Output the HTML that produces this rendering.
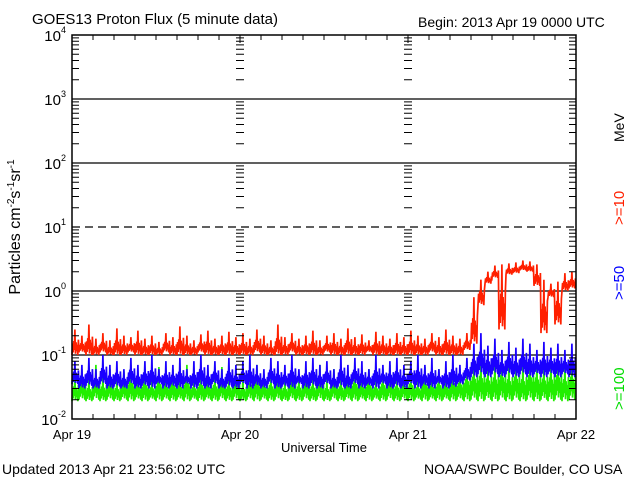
<!DOCTYPE html>
<html><head><meta charset="utf-8"><style>
body{margin:0;background:#fff;}
svg text{font-family:"Liberation Sans",sans-serif;}
</style></head><body>
<svg id="chart" width="640" height="480" xmlns="http://www.w3.org/2000/svg">
<rect width="640" height="480" fill="#fff"/>
<text x="32" y="24" font-size="15">GOES13 Proton Flux (5 minute data)</text>
<text x="418" y="27" font-size="14">Begin: 2013 Apr 19 0000 UTC</text>
<text x="2" y="474" font-size="14">Updated 2013 Apr 21 23:56:02 UTC</text>
<text x="424" y="474" font-size="14">NOAA/SWPC Boulder, CO USA</text>
<text x="324" y="452" font-size="13" text-anchor="middle">Universal Time</text>
<text transform="translate(20,227) rotate(-90)" font-size="16" text-anchor="middle">Particles cm<tspan font-size="10" dy="-6">-2</tspan><tspan dy="6">s</tspan><tspan font-size="10" dy="-6">-1</tspan><tspan dy="6">sr</tspan><tspan font-size="10" dy="-6">-1</tspan></text>
<text transform="translate(624,142) rotate(-90)" font-size="14">MeV</text>
<text transform="translate(624,225) rotate(-90)" font-size="15" fill="#ff2000">&gt;=10</text>
<text transform="translate(624,300) rotate(-90)" font-size="15" fill="#0000ff">&gt;=50</text>
<text transform="translate(624,410) rotate(-90)" font-size="15" fill="#00dd00">&gt;=100</text>
<g id="grid"></g><g id="series"></g><g id="axes"></g>
</svg>
<script>
const dayLabels=["Apr 19","Apr 20","Apr 21","Apr 22"];
const decades=[-2,-1,0,1,2,3,4];
const redHi=[0.25,0.2,0.3,0.18,0.22,0.17,0.26,0.2,0.19,0.24,0.18,0.2,0.16,0.22,0.19,0.28,0.2,0.17,0.21,0.24,0.18,0.2,0.23,0.19,
0.22,0.18,0.25,0.2,0.17,0.3,0.19,0.22,0.18,0.2,0.24,0.17,0.2,0.22,0.18,0.26,0.19,0.21,0.17,0.23,0.2,0.18,0.22,0.19,
0.24,0.2,0.18,0.22,0.19,0.25,0.2,0.18,0.22,0.8,1.5,2.0,2.5,2.6,2.7,2.8,3.0,2.9,2.6,1.5,1.3,1.4,1.9,2.0];
const redLo=[0.1,0.11,0.1,0.1,0.11,0.1,0.1,0.1,0.11,0.1,0.1,0.1,0.1,0.11,0.1,0.1,0.1,0.1,0.11,0.1,0.1,0.1,0.1,0.1,
0.1,0.1,0.11,0.1,0.1,0.1,0.1,0.11,0.1,0.1,0.1,0.1,0.11,0.1,0.1,0.1,0.1,0.1,0.11,0.1,0.1,0.1,0.1,0.1,
0.1,0.1,0.1,0.11,0.1,0.1,0.1,0.1,0.12,0.15,0.6,1.3,1.6,0.25,1.8,1.9,2.1,2.0,1.2,0.22,0.8,0.3,1.0,1.1];
const blueHi=[0.08,0.07,0.09,0.06,0.1,0.07,0.08,0.06,0.09,0.07,0.08,0.1,0.06,0.08,0.07,0.09,0.06,0.08,0.1,0.07,0.08,0.06,0.09,0.07,
0.08,0.1,0.07,0.06,0.09,0.08,0.07,0.1,0.06,0.08,0.09,0.07,0.08,0.06,0.1,0.07,0.09,0.08,0.06,0.1,0.07,0.08,0.09,0.07,
0.08,0.1,0.07,0.09,0.06,0.08,0.1,0.07,0.09,0.15,0.22,0.14,0.18,0.12,0.16,0.13,0.18,0.15,0.12,0.16,0.13,0.15,0.12,0.15];
const blueLo=[0.035,0.03,0.033,0.03,0.035,0.03,0.032,0.03,0.035,0.03,0.033,0.03,0.035,0.03,0.032,0.03,0.035,0.03,0.033,0.03,0.035,0.03,0.032,0.03,
0.035,0.03,0.033,0.03,0.035,0.03,0.032,0.03,0.035,0.03,0.033,0.03,0.035,0.03,0.032,0.03,0.035,0.03,0.033,0.03,0.035,0.03,0.032,0.03,
0.035,0.03,0.033,0.03,0.035,0.03,0.032,0.035,0.04,0.045,0.05,0.045,0.05,0.045,0.05,0.045,0.05,0.045,0.05,0.045,0.05,0.045,0.05,0.045];
const greenHi=[0.05,0.06,0.045,0.07,0.05,0.06,0.045,0.055,0.07,0.05,0.06,0.045,0.065,0.05,0.06,0.05,0.07,0.045,0.06,0.05,0.055,0.065,0.05,0.06,
0.045,0.06,0.07,0.05,0.055,0.06,0.045,0.065,0.05,0.06,0.05,0.07,0.045,0.06,0.05,0.055,0.065,0.05,0.06,0.045,0.06,0.07,0.05,0.055,
0.06,0.045,0.065,0.05,0.06,0.05,0.07,0.06,0.08,0.09,0.1,0.08,0.09,0.1,0.08,0.09,0.08,0.1,0.09,0.08,0.09,0.1,0.08,0.09];
const greenLo=[0.019,0.02,0.019,0.02,0.019,0.02,0.019,0.02,0.019,0.02,0.019,0.02,0.019,0.02,0.019,0.02,0.019,0.02,0.019,0.02,0.019,0.02,0.019,0.02,
0.019,0.02,0.019,0.02,0.019,0.02,0.019,0.02,0.019,0.02,0.019,0.02,0.019,0.02,0.019,0.02,0.019,0.02,0.019,0.02,0.019,0.02,0.019,0.02,
0.019,0.02,0.019,0.02,0.019,0.02,0.019,0.02,0.019,0.02,0.019,0.02,0.019,0.02,0.019,0.02,0.019,0.02,0.019,0.02,0.019,0.02,0.019,0.02];

const L=72,R=576,T=35,B=419,NS="http://www.w3.org/2000/svg";
const xH=h=>L+(R-L)*h/72;
const yV=v=>B-(Math.log10(v)+2)*(B-T)/6;
function mk(tag,attrs,parent){const e=document.createElementNS(NS,tag);for(const k in attrs)e.setAttribute(k,attrs[k]);parent.appendChild(e);return e;}
const grid=document.getElementById('grid'),axes=document.getElementById('axes'),ser=document.getElementById('series');
[3,2,1,0,-1].forEach(d=>{
 const y=yV(Math.pow(10,d));
 const ln=mk('line',{x1:L,x2:R,y1:y,y2:y,stroke:'#000','stroke-width':1.3,'stroke-dasharray':d===1?'8,5':'none'},grid);
 
 
});
const shape=[0,0.45,0.1,0.55,0.2,1,0.05,0.5,0.15,0.4,0,0.6];
function draw(hi,lo,color,name){
 let pts=[];
 hi.forEach((h,i)=>{
  const l=lo[i],a=Math.log10(l),b=Math.log10(h);
  shape.forEach((f,k)=>{pts.push(xH(i+k/shape.length).toFixed(1)+','+yV(Math.pow(10,a+(b-a)*f)).toFixed(1));});
 });
 const p=mk('polyline',{points:pts.join(' '),fill:'none',stroke:color,'stroke-width':1.7},ser);
 
 
}
draw(greenHi,greenLo,'#22ee00','series-ge100');
draw(blueHi,blueLo,'#1a00ff','series-ge50');
draw(redHi,redLo,'#ff2000','series-ge10');
const fr=mk('rect',{x:L,y:T,width:R-L,height:B-T,fill:'none',stroke:'#000','stroke-width':1.5},axes);


let tp='';
for(let d=-2;d<4;d++)for(let m=2;m<=9;m++){const y=yV(m*Math.pow(10,d)).toFixed(1);
 tp+=`M${L},${y}h7M${R},${y}h-7M${xH(24)-4},${y}h8M${xH(48)-4},${y}h8`;}
for(let h=3;h<72;h+=3){const x=xH(h).toFixed(1),len=h%24===0?8:5;tp+=`M${x},${B}v-${len}M${x},${T}v${len}`;}
const tk=mk('path',{d:tp,stroke:'#000','stroke-width':1,fill:'none'},axes);


decades.forEach(d=>{
 const y=yV(Math.pow(10,d));
 const t=mk('text',{x:L-6,y:y+6,'font-size':15,'text-anchor':'end'},axes);
 
 
 t.textContent='10';
 const s=mk('tspan',{'font-size':9,dy:-8},t);s.textContent=String(d);
});
dayLabels.forEach((lab,i)=>{
 const t=mk('text',{x:xH(i*24),y:439,'font-size':13,'text-anchor':'middle'},axes);
 
 
 t.textContent=lab;
});
</script>
</body></html>
